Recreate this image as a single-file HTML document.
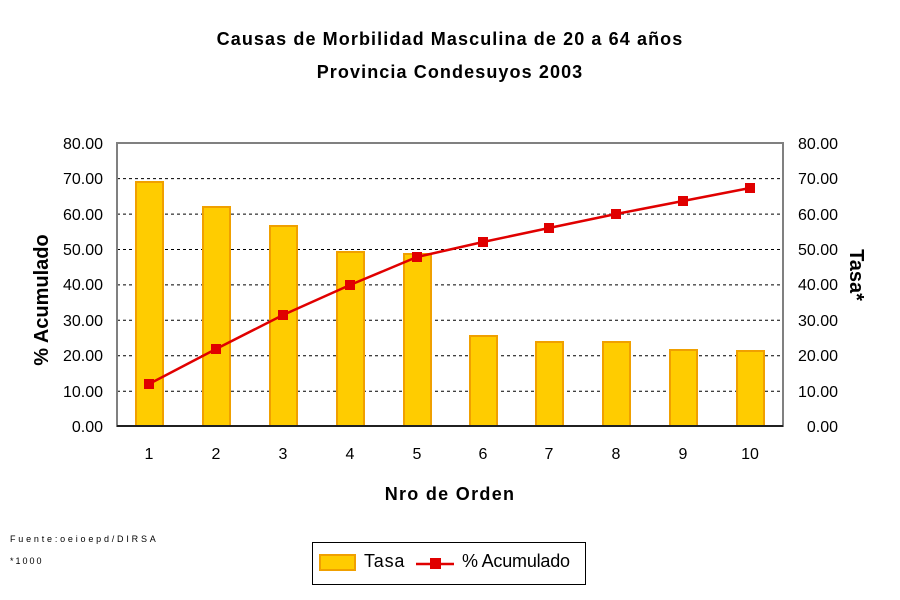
<!DOCTYPE html>
<html><head><meta charset="utf-8"><style>
html,body{margin:0;padding:0;background:#fff;}
svg{display:block;font-family:"Liberation Sans",Arial,sans-serif;}
</style></head><body>
<svg width="900" height="600" viewBox="0 0 900 600" xmlns="http://www.w3.org/2000/svg">
<rect width="900" height="600" fill="#fff"/>
<text x="450" y="45" text-anchor="middle" font-size="18" font-weight="bold" letter-spacing="1.1">Causas de Morbilidad Masculina de 20 a 64 años</text>
<text x="450" y="78" text-anchor="middle" font-size="18" font-weight="bold" letter-spacing="1.1">Provincia Condesuyos 2003</text>
<g stroke="#000" stroke-width="1" stroke-dasharray="3,3">
<line x1="117" y1="178.6" x2="783" y2="178.6"/>
<line x1="117" y1="214.1" x2="783" y2="214.1"/>
<line x1="117" y1="249.5" x2="783" y2="249.5"/>
<line x1="117" y1="284.9" x2="783" y2="284.9"/>
<line x1="117" y1="320.3" x2="783" y2="320.3"/>
<line x1="117" y1="355.8" x2="783" y2="355.8"/>
<line x1="117" y1="391.2" x2="783" y2="391.2"/>
</g>
<g fill="#ffcc00" stroke="#f0a000" stroke-width="2">
<rect x="136" y="182" width="27" height="244"/>
<rect x="203" y="207" width="27" height="219"/>
<rect x="270" y="226" width="27" height="200"/>
<rect x="337" y="252" width="27" height="174"/>
<rect x="404" y="254" width="27" height="172"/>
<rect x="470" y="336" width="27" height="90"/>
<rect x="536" y="342" width="27" height="84"/>
<rect x="603" y="342" width="27" height="84"/>
<rect x="670" y="350" width="27" height="76"/>
<rect x="737" y="351" width="27" height="75"/>
</g>
<rect x="117" y="143" width="666" height="283" fill="none" stroke="#808080" stroke-width="2"/>
<line x1="117" y1="426" x2="783" y2="426" stroke="#000" stroke-width="1.5"/>
<polyline fill="none" stroke="#e00000" stroke-width="2.5" points="149,384 216,349 283,315 350,285 417,257 483,242 549,228 616,214 683,201 750,188"/>
<g fill="#e00000">
<rect x="144" y="379" width="10" height="10"/><rect x="211" y="344" width="10" height="10"/>
<rect x="278" y="310" width="10" height="10"/><rect x="345" y="280" width="10" height="10"/>
<rect x="412" y="252" width="10" height="10"/><rect x="478" y="237" width="10" height="10"/>
<rect x="544" y="223" width="10" height="10"/><rect x="611" y="209" width="10" height="10"/>
<rect x="678" y="196" width="10" height="10"/><rect x="745" y="183" width="10" height="10"/>
</g>
<g font-size="16" text-anchor="end">
<text x="103" y="149">80.00</text><text x="103" y="184">70.00</text><text x="103" y="220">60.00</text>
<text x="103" y="255">50.00</text><text x="103" y="290">40.00</text><text x="103" y="326">30.00</text>
<text x="103" y="361">20.00</text><text x="103" y="397">10.00</text><text x="103" y="432">0.00</text>
</g>
<g font-size="16" text-anchor="end">
<text x="838" y="149">80.00</text><text x="838" y="184">70.00</text><text x="838" y="220">60.00</text>
<text x="838" y="255">50.00</text><text x="838" y="290">40.00</text><text x="838" y="326">30.00</text>
<text x="838" y="361">20.00</text><text x="838" y="397">10.00</text><text x="838" y="432">0.00</text>
</g>
<g font-size="16" text-anchor="middle">
<text x="149" y="459">1</text><text x="216" y="459">2</text><text x="283" y="459">3</text>
<text x="350" y="459">4</text><text x="417" y="459">5</text><text x="483" y="459">6</text>
<text x="549" y="459">7</text><text x="616" y="459">8</text><text x="683" y="459">9</text>
<text x="750" y="459">10</text>
</g>
<text x="450" y="500" text-anchor="middle" font-size="18" font-weight="bold" letter-spacing="1.3">Nro de Orden</text>
<text transform="translate(48,300) rotate(-90)" text-anchor="middle" font-size="20" font-weight="bold">% Acumulado</text>
<text transform="translate(850,275) rotate(90)" text-anchor="middle" font-size="20" font-weight="bold">Tasa*</text>
<text x="10" y="542" font-size="9" letter-spacing="2.8">Fuente:oeioepd/DIRSA</text>
<text x="10" y="564" font-size="9" letter-spacing="2">*1000</text>
<rect x="312.5" y="542.5" width="273" height="42" fill="#fff" stroke="#000" stroke-width="1"/>
<rect x="320" y="555" width="35" height="15" fill="#ffcc00" stroke="#f0a000" stroke-width="2"/>
<text x="364" y="567" font-size="18" letter-spacing="0.8">Tasa</text>
<line x1="416" y1="564" x2="454" y2="564" stroke="#e00000" stroke-width="2.5"/>
<rect x="430" y="558" width="11" height="11" fill="#e00000"/>
<text x="462" y="567" font-size="18" letter-spacing="-0.2">% Acumulado</text>
</svg>
</body></html>
